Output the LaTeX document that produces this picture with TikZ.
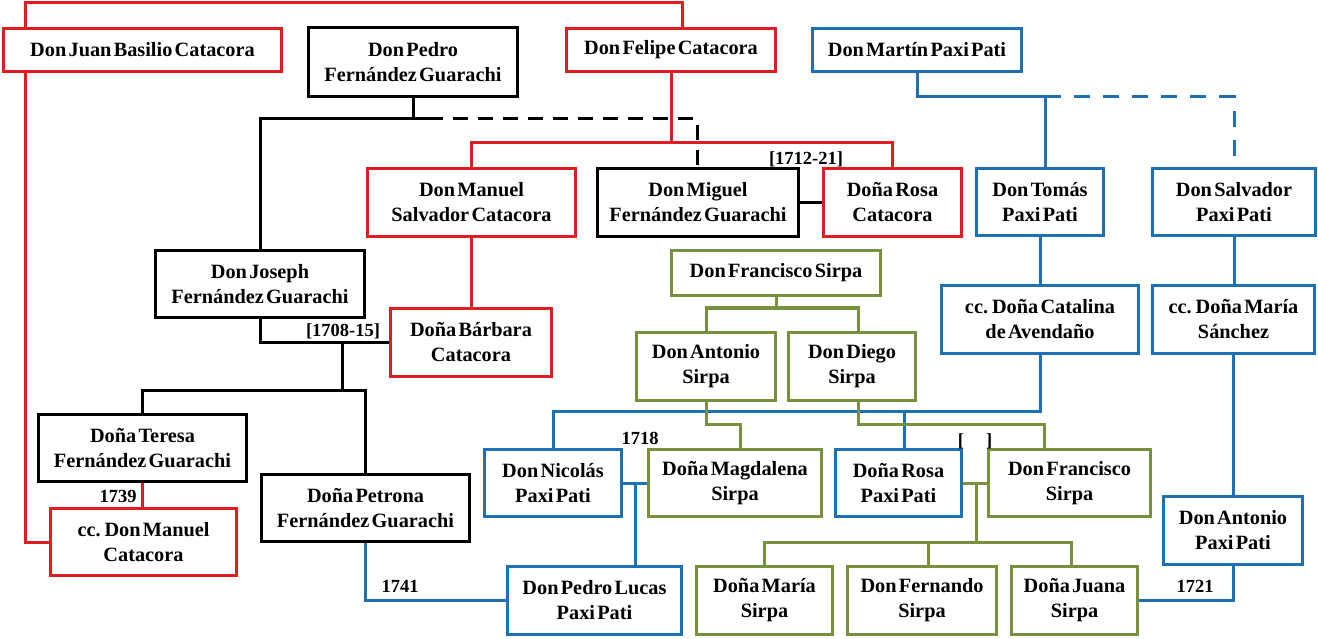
\documentclass[tikz,border=0pt]{standalone}
\usepackage{fontspec}
\setmainfont{Liberation Serif}[WordSpace=0.45]
\definecolor{cred}{RGB}{225,28,34}
\definecolor{cblue}{RGB}{30,112,182}
\definecolor{cgreen}{RGB}{119,145,62}
\tikzset{
  box/.style={draw, line width=3pt, fill=white, inner sep=1pt, align=center,
    font=\fontsize{20.3}{25}\selectfont\bfseries},
  rbox/.style={box, draw=cred},
  bbox/.style={box, draw=black},
  ubox/.style={box, draw=cblue},
  gbox/.style={box, draw=cgreen},
  conn/.style={line width=3pt, line join=miter},
  rl/.style={conn, draw=cred},
  bl/.style={conn, draw=black},
  ul/.style={conn, draw=cblue},
  gl/.style={conn, draw=cgreen},
  lbl/.style={font=\fontsize{18.5}{20}\selectfont\bfseries, inner sep=0pt}
}
\begin{document}
\begin{tikzpicture}[x=1pt,y=-1pt]
\useasboundingbox (0,0) rectangle (1318,639);
% boxes
\node[rbox, minimum width=278pt, minimum height=43pt] (JB) at (142.5,50) {Don Juan Basilio Catacora};
\node[bbox, minimum width=209pt, minimum height=69pt] (P) at (413,62) {Don Pedro\\Fernández Guarachi};
\node[rbox, minimum width=209pt, minimum height=43pt] (F) at (671,50) {Don Felipe Catacora};
\node[ubox, minimum width=209pt, minimum height=43pt] (M) at (917,50) {Don Martín Paxi Pati};
\node[rbox, minimum width=208pt, minimum height=68pt] (MS) at (471.5,202.5) {Don Manuel\\Salvador Catacora};
\node[bbox, minimum width=201pt, minimum height=68pt] (Mi) at (698,202.5) {Don Miguel\\Fernández Guarachi};
\node[rbox, minimum width=138pt, minimum height=68pt] (RC) at (892.5,202.5) {Doña Rosa\\Catacora};
\node[ubox, minimum width=127pt, minimum height=67pt] (T) at (1040,202) {Don Tomás\\Paxi Pati};
\node[ubox, minimum width=163pt, minimum height=67pt] (S) at (1234,202) {Don Salvador\\Paxi Pati};
\node[bbox, minimum width=209pt, minimum height=67pt] (J) at (260,284) {Don Joseph\\Fernández Guarachi};
\node[gbox, minimum width=209pt, minimum height=45pt] (FS) at (776,273) {Don Francisco Sirpa};
\node[ubox, minimum width=197pt, minimum height=68pt] (Cat) at (1040,319.5) {cc. Doña Catalina\\de Avendaño};
\node[ubox, minimum width=162pt, minimum height=68pt] (MSa) at (1233.5,319.5) {cc. Doña María\\Sánchez};
\node[rbox, minimum width=161pt, minimum height=68pt] (B) at (471,342.5) {Doña Bárbara\\Catacora};
\node[gbox, minimum width=139pt, minimum height=68pt] (AS) at (706,366.5) {Don Antonio\\Sirpa};
\node[gbox, minimum width=127pt, minimum height=68pt] (DS) at (852,366.5) {Don Diego\\Sirpa};
\node[bbox, minimum width=208pt, minimum height=67pt] (Te) at (142.5,448) {Doña Teresa\\Fernández Guarachi};
\node[bbox, minimum width=208pt, minimum height=67pt] (Pe) at (365.5,508) {Doña Petrona\\Fernández Guarachi};
\node[ubox, minimum width=137pt, minimum height=67pt] (N) at (553,483) {Don Nicolás\\Paxi Pati};
\node[gbox, minimum width=173pt, minimum height=67pt] (Mg) at (735,483) {Doña Magdalena\\Sirpa};
\node[ubox, minimum width=126pt, minimum height=67pt] (RP) at (898.5,483) {Doña Rosa\\Paxi Pati};
\node[gbox, minimum width=162pt, minimum height=67pt] (FS2) at (1069.5,483) {Don Francisco\\Sirpa};
\node[ubox, minimum width=139pt, minimum height=68pt] (APP) at (1233,530.5) {Don Antonio\\Paxi Pati};
\node[rbox, minimum width=186pt, minimum height=67pt] (ccM) at (143.5,542) {cc. Don Manuel\\Catacora};
\node[ubox, minimum width=174pt, minimum height=68pt] (PL) at (594.5,600.5) {Don Pedro Lucas\\Paxi Pati};
\node[gbox, minimum width=136pt, minimum height=68pt] (MaS) at (764.5,600.5) {Doña María\\Sirpa};
\node[gbox, minimum width=149pt, minimum height=68pt] (Fe) at (922,600.5) {Don Fernando\\Sirpa};
\node[gbox, minimum width=126pt, minimum height=68pt] (Ju) at (1074.5,600.5) {Doña Juana\\Sirpa};
% labels
\node[lbl] (L1) at (806,159) {[1712-21]};
\node[lbl] (L2) at (343,331) {[1708-15]};
\node[lbl] (L3) at (118,496) {1739};
\node[lbl] (L4) at (640,438) {1718};
\node[lbl] (L5) at (975,441) {[\hspace{22pt}]};
\node[lbl] (L6) at (400,586) {1741};
\node[lbl] (L7) at (1195,586) {1721};
% junction coordinates
\coordinate (r1) at (25,3);
\coordinate (r2) at (682,3);
\coordinate (pm) at (428,119);
\coordinate (pd) at (697,119);
\coordinate (fj) at (671,143);
\coordinate (mt) at (1045,97);
\coordinate (cj) at (1040,411);
\coordinate (cr) at (904,411);
\coordinate (fsj) at (776,308);
\coordinate (dsj) at (858,308);
\coordinate (am) at (740,424);
\coordinate (df) at (858,424);
\coordinate (df2) at (1044,424);
\coordinate (nm) at (635,483);
\coordinate (rf) at (976,483);
\coordinate (g2) at (928,542);
\coordinate (g3) at (1071,542);
\coordinate (jc) at (342,343);
\coordinate (jd) at (342,390);
% red connectors
\draw[rl] (JB.north -| r1) -- (r1) -- (r2) -- (F.north -| r2);
\draw[rl] (JB.south -| r1) |- (ccM.west);
\draw[rl] (F.south) -- (fj);
\draw[rl] (MS.north) |- (fj) -| (RC.north);
\draw[rl] (MS.south) -- (MS.south |- B.north);
\draw[rl] (Te.south) -- (Te.south |- ccM.north);
% black connectors
\draw[bl] (P.south) -- (P.south |- pm);
\draw[bl] (J.north) |- (pm);
\draw[bl, dash pattern=on 15pt off 10pt] (pm) -- (pd) -- (Mi.north -| pd);
\draw[bl] (Mi.east) -- (RC.west);
\draw[bl] (J.south) |- (B.west);
\draw[bl] (jc) -- (jd);
\draw[bl] (Te.north) |- (jd) -| (Pe.north);
% blue connectors
\draw[ul] (M.south) |- (mt) -- (T.north -| mt);
\draw[ul, dash pattern=on 16pt off 13pt] (mt) -| (S.north);
\draw[ul] (T.south) -- (Cat.north);
\draw[ul] (S.south) -- (S.south |- MSa.north);
\draw[ul] (MSa.south) -- (MSa.south |- APP.north);
\draw[ul] (APP.south) |- (Ju.east);
\draw[ul] (Cat.south) -- (cj) -| (N.north);
\draw[ul] (cr) -- (cr |- RP.north);
\draw[ul] (N.east) -- (Mg.west);
\draw[ul] (nm) -- (nm |- PL.north);
\draw[ul] (Pe.south) |- (PL.west);
% green connectors
\draw[gl] (FS.south) -- (fsj);
\draw[gl] (AS.north) |- (dsj) -- (dsj |- DS.north);
\draw[gl] (AS.south) |- (am) -- (am |- Mg.north);
\draw[gl] (DS.south -| df) -- (df) -- (df2) -- (df2 |- FS2.north);
\draw[gl] (RP.east) -- (FS2.west);
\draw[gl] (rf) -- (rf |- g3);
\draw[gl] (MaS.north) |- (g3) -- (g3 |- Ju.north);
\draw[gl] (g2) -- (g2 |- Fe.north);
\end{tikzpicture}
\end{document}
